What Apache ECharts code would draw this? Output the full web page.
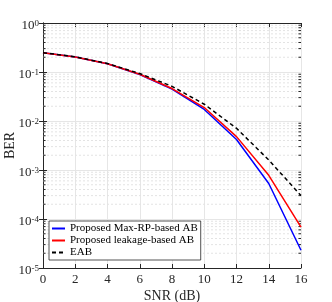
<!DOCTYPE html>
<html><head><meta charset="utf-8">
<script src="https://cdn.jsdelivr.net/npm/echarts@6/dist/echarts.min.js"></script>
<style>html,body{margin:0;padding:0;background:#fff}#c{width:332px;height:302px}</style>
</head><body><div id="c"></div>
<script>
const snr = [0, 2, 4, 6, 8, 10, 12, 14, 16];
const maxRP = [0.247, 0.203, 0.147, 0.089, 0.045, 0.0172, 0.0042, 5.3e-4, 2.3e-5];
const leakage = [0.247, 0.203, 0.147, 0.090, 0.046, 0.0188, 0.0048, 7.8e-4, 6.8e-5];
const eab = [0.248, 0.204, 0.149, 0.093, 0.051, 0.022, 0.0071, 0.0016, 3.0e-4];
const names = ['Proposed Max-RP-based AB', 'Proposed leakage-based AB', 'EAB'];

const minorVals = [];
for (let d = -5; d < 0; d++) for (let k = 2; k <= 9; k++) minorVals.push(k * Math.pow(10, d));

const font = '"Liberation Serif", "Times New Roman", serif';
const axisColor = '#262626';
const chart = echarts.init(document.getElementById('c'), null, {renderer: 'canvas'});
const pair = a => snr.map((x, i) => [x, a[i]]);

const deco = (data, style) => ({
  type: 'line', data: data, silent: true, showSymbol: false, symbol: 'none',
  lineStyle: style, z: 1, tooltip: {show: false}, legendHoverLink: false
});
const gridSeries = [];
minorVals.forEach(v => {
  gridSeries.push(deco([[0, v], [16, v]], {color: '#e3e3e3', type: [2, 2], width: 1}));
  gridSeries.push(deco([[0, v], [0.16, v]], {color: axisColor, width: 1}));
  gridSeries.push(deco([[15.84, v], [16, v]], {color: axisColor, width: 1}));
});

chart.setOption({
  animation: false,
  textStyle: {fontFamily: font},
  grid: {left: 43, right: 31, top: 23, bottom: 34, outerBoundsMode: 'none', containLabel: false},
  legend: {
    show: true, orient: 'vertical', left: 49, top: 221, itemGap: 1, itemWidth: 13, itemHeight: 10,
    padding: [2, 3, 2, 2], borderColor: '#262626', borderWidth: 0.8, backgroundColor: '#fff',
    itemStyle: {opacity: 0},
    textStyle: {fontFamily: font, fontSize: 11, lineHeight: 11, color: '#000'},
    data: names
  },
  xAxis: [{
    type: 'value', min: 0, max: 16, interval: 2,
    name: 'SNR (dB)', nameLocation: 'middle', nameGap: 21, nameMoveOverlap: false,
    nameTextStyle: {fontFamily: font, fontSize: 14, color: axisColor},
    axisLine: {lineStyle: {color: axisColor}},
    axisTick: {inside: true, length: 4, lineStyle: {color: axisColor}},
    axisLabel: {color: axisColor, fontFamily: font, fontSize: 13, margin: 5},
    splitLine: {show: true, lineStyle: {color: '#e6e6e6', width: 1}}
  }, {
    type: 'value', min: 0, max: 16, interval: 2, position: 'top',
    axisLine: {show: true, lineStyle: {color: axisColor}},
    axisTick: {inside: true, length: 4, lineStyle: {color: axisColor}},
    axisLabel: {show: false}, splitLine: {show: false}
  }],
  yAxis: [{
    type: 'log', logBase: 10, min: 1e-5, max: 1,
    name: 'BER', nameLocation: 'middle', nameGap: 26, nameMoveOverlap: false,
    nameTextStyle: {fontFamily: font, fontSize: 14, color: axisColor},
    axisLine: {show: true, lineStyle: {color: axisColor}},
    axisTick: {inside: true, length: 4, lineStyle: {color: axisColor}},
    axisLabel: {
      color: axisColor, fontFamily: font, fontSize: 13, margin: 4, padding: [6, 0, 0, 0],
      formatter: v => '10{s|' + Math.round(Math.log10(v)) + '}',
      rich: {s: {fontSize: 9, verticalAlign: 'top', padding: [0, 0, 5, 0], fontFamily: font, color: axisColor}}
    },
    splitLine: {show: true, lineStyle: {color: '#e6e6e6', width: 1}}
  }, {
    type: 'log', logBase: 10, min: 1e-5, max: 1, position: 'right',
    axisLine: {show: true, lineStyle: {color: axisColor}},
    axisTick: {inside: true, length: 4, lineStyle: {color: axisColor}},
    axisLabel: {show: false}, splitLine: {show: false}
  }],
  series: gridSeries.concat([{
    type: 'line', name: names[0], data: pair(maxRP), showSymbol: false, symbol: 'none',
    lineStyle: {color: '#0000ff', width: 1.5}, itemStyle: {color: '#0000ff'}, z: 3
  }, {
    type: 'line', name: names[1], data: pair(leakage), showSymbol: false, symbol: 'none',
    lineStyle: {color: '#ff0000', width: 1.5}, itemStyle: {color: '#ff0000'}, z: 4
  }, {
    type: 'line', name: names[2], data: pair(eab), showSymbol: false, symbol: 'none',
    lineStyle: {color: '#000', width: 1.5, type: [4, 3]}, itemStyle: {color: '#000'}, z: 5
  }])
});
</script></body></html>
